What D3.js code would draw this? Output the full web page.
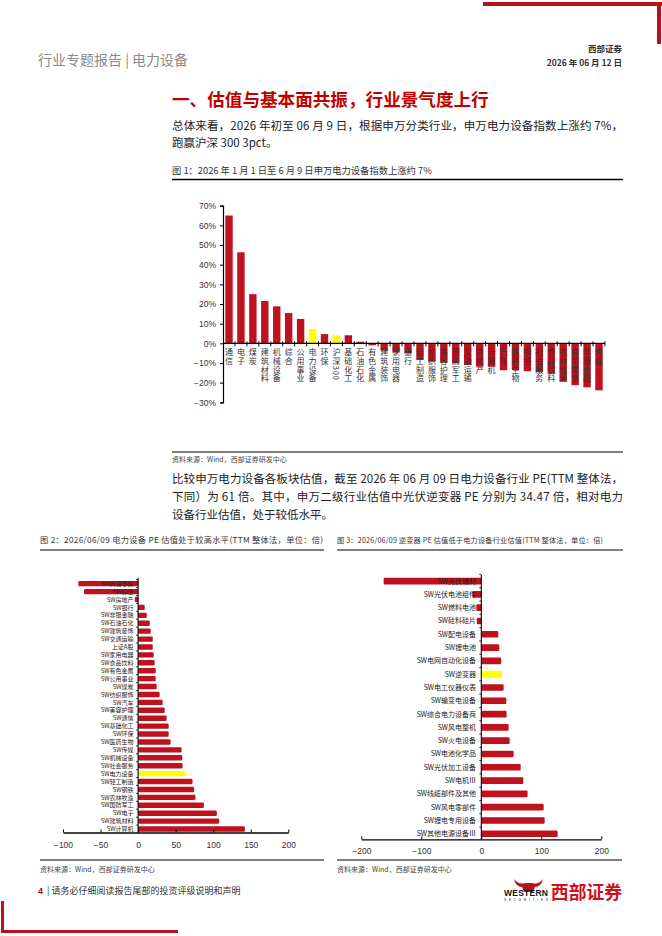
<!DOCTYPE html>
<html>
<head>
<meta charset="utf-8">
<script src="https://cdn.jsdelivr.net/npm/d3@7"></script>
<style>
body { margin: 0; background: #fff; }
svg { display: block; }
text { font-family: "Noto Sans CJK SC", "Liberation Sans", sans-serif; }
.num { font-family: "Liberation Sans", Arial, sans-serif; }
</style>
</head>
<body>
<svg width="662" height="936"></svg>
<script>
// 图1: 申万一级行业年初至今涨跌幅
var industries = ["通信","电子","煤炭","建筑材料","机械设备","综合","公用事业","电力设备","环保","沪深300","基础化工","石油石化","有色金属","建筑装饰","家用电器","银行","轻工制造","纺织服饰","美容护理","国防军工","交通运输","房地产","计算机","汽车","医药生物","钢铁","社会服务","食品饮料","农林牧渔","商贸零售","非银金融","传媒"];
var industryChange = [0.65,0.463,0.25,0.215,0.188,0.154,0.124,0.073,0.047,0.041,0.041,0.008,-0.01,-0.037,-0.047,-0.051,-0.085,-0.093,-0.098,-0.102,-0.11,-0.119,-0.119,-0.137,-0.136,-0.142,-0.146,-0.155,-0.195,-0.213,-0.224,-0.239];
var pctTicks = [-0.3,-0.2,-0.1,0,0.1,0.2,0.3,0.4,0.5,0.6,0.7];
var highlight1 = ["电力设备","沪深300"];

// 图2: 申万一级行业 PE(TTM)
var peNames = ["SW商贸零售","SW综合","SW房地产","SW银行","SW非银金融","SW石油石化","SW建筑装饰","SW交通运输","上证A股","SW家用电器","SW食品饮料","SW有色金属","SW公用事业","SW煤炭","SW纺织服饰","SW汽车","SW美容护理","SW通信","SW基础化工","SW环保","SW医药生物","SW传媒","SW机械设备","SW社会服务","SW电力设备","SW轻工制造","SW钢铁","SW农林牧渔","SW国防军工","SW电子","SW建筑材料","SW计算机"];
var peValues = [-79.6,-72,-4.4,8.8,11.5,15.5,16.8,19.5,19.5,20.8,22,23.4,23.4,24.8,28.7,32.7,35.4,38,40.7,40.7,43.3,57.9,58.8,59.2,63,72.4,74.7,76.4,87.6,104.9,108,142.2];
var peTicks = [-100,-50,0,50,100,150,200];
var highlight2 = ["SW电力设备"];

// 图3: 电力设备三级行业 PE(TTM)
var subNames = ["SW光伏辅材","SW光伏电池组件","SW燃料电池","SW硅料硅片","SW配电设备","SW锂电池","SW电网自动化设备","SW逆变器","SW电工仪器仪表","SW输变电设备","SW综合电力设备商","SW风电整机","SW火电设备","SW电池化学品","SW光伏加工设备","SW电机Ⅲ","SW线缆部件及其他","SW风电零部件","SW锂电专用设备","SW其他电源设备Ⅲ"];
var subValues = [-162.8,-15,-8.3,-7.5,28.3,30,33.3,34.47,37.2,41.7,42.2,45.6,47.2,53.9,65.6,70,77.2,103.9,105.6,127.2];
var subTicks = [-200,-100,0,100,200];
var highlight3 = ["SW逆变器"];

var RED = "#C0121E", YELLOW = "#FFFF00", BRAND = "#B8101C";
var svg = d3.select("svg");

function addText(x, y, s, size, opts) {
    opts = opts || {};
    var t = svg.append("text")
        .attr("x", x).attr("y", y)
        .attr("font-size", size)
        .attr("fill", opts.fill || "#222")
        .attr("font-weight", opts.weight || "normal")
        .attr("text-anchor", opts.anchor || "start")
        .text(s);
    if (opts.len) t.attr("textLength", opts.len).attr("lengthAdjust", "spacing");
    return t;
}
function hline(x1, x2, y, w, c) {
    svg.append("line").attr("x1", x1).attr("x2", x2).attr("y1", y).attr("y2", y)
        .attr("stroke", c || "#000").attr("stroke-width", w || 1);
}

// page frame
svg.append("rect").attr("x", 483).attr("y", 2).attr("width", 179).attr("height", 4).attr("fill", BRAND);
svg.append("rect").attr("x", 657).attr("y", 2).attr("width", 4).attr("height", 42).attr("fill", BRAND);
svg.append("rect").attr("x", 1).attr("y", 901).attr("width", 3).attr("height", 32).attr("fill", BRAND);
svg.append("rect").attr("x", 1).attr("y", 930).attr("width", 177).attr("height", 3).attr("fill", BRAND);

addText(38, 65, "行业专题报告 | 电力设备", 14, {fill: "#8a8a8a"});
addText(622, 52, "西部证券", 8.5, {anchor: "end", weight: "bold", fill: "#333"});
addText(622, 66, "2026 年 06 月 12 日", 8.5, {anchor: "end", weight: "bold", fill: "#333"});

addText(172, 106, "一、估值与基本面共振，行业景气度上行", 17.6, {fill: "#C00000", weight: "bold"});
addText(172, 130, "总体来看，2026 年初至 06 月 9 日，根据申万分类行业，申万电力设备指数上涨约 7%，", 11.5, {len: 451});
addText(172, 147, "跑赢沪深 300 3pct。", 11.5);

addText(172, 174, "图 1：2026 年 1 月 1 日至 6 月 9 日申万电力设备指数上涨约 7%", 9.3, {fill: "#333"});
hline(172, 623, 179.5, 1.3);

// ---- chart 1 ----
var x1 = d3.scalePoint().domain(industries).range([229, 599]);
var y1 = d3.scaleLinear().domain([-0.3, 0.7]).range([402.3, 205.7]);
var bw1 = 7.4;

var yAxis1 = svg.append("g")
    .attr("transform", "translate(223,0)")
    .call(d3.axisLeft(y1).tickValues(pctTicks).tickFormat(d3.format(".0%")).tickSize(3).tickPadding(4));
yAxis1.select(".domain").attr("stroke-width", 1.2);
yAxis1.selectAll("text").attr("class", "num").attr("font-size", 8.5).attr("fill", "#333");

var data1 = industries.map(function(d, i){ return {name: d, v: industryChange[i]}; });
svg.append("g").selectAll("rect")
    .data(data1)
    .enter()
    .append("rect")
    .attr("x", function(d){ return x1(d.name) - bw1 / 2; })
    .attr("y", function(d){ return y1(Math.max(0, d.v)); })
    .attr("width", bw1)
    .attr("height", function(d){ return Math.abs(y1(d.v) - y1(0)); })
    .attr("fill", function(d){ return highlight1.indexOf(d.name) >= 0 ? YELLOW : RED; });

hline(223, 605, y1(0), 1.2);
svg.append("g").selectAll("line")
    .data(industries)
    .enter()
    .append("line")
    .attr("x1", function(d){ return x1(d) + x1.step() / 2; })
    .attr("x2", function(d){ return x1(d) + x1.step() / 2; })
    .attr("y1", y1(0) - 2)
    .attr("y2", y1(0) + 3)
    .attr("stroke", "#000").attr("stroke-width", 1);

// vertical category labels sit on top of the bars
svg.append("g").selectAll("text")
    .data(industries)
    .enter()
    .append("text")
    .attr("x", function(d){ return x1(d); })
    .attr("y", y1(0) + 5)
    .style("writing-mode", "vertical-rl")
    .attr("font-size", 8)
    .attr("letter-spacing", 0.6)
    .attr("fill", "#333")
    .text(function(d){ return d; });

hline(172, 623, 452, 1.2);
addText(172, 462, "资料来源：Wind，西部证券研发中心", 7, {fill: "#444"});

addText(172, 483, "比较申万电力设备各板块估值，截至 2026 年 06 月 09 日电力设备行业 PE(TTM 整体法，", 11.5, {len: 451});
addText(172, 501, "下同）为 61 倍。其中，申万二级行业估值中光伏逆变器 PE 分别为 34.47 倍，相对电力", 11.5, {len: 451});
addText(172, 519, "设备行业估值，处于较低水平。", 11.5);

addText(40, 543, "图 2：2026/06/09 电力设备 PE 估值处于较高水平(TTM 整体法，单位：倍)", 8.2, {fill: "#333", len: 283});
addText(337, 543, "图 3：2026/06/09 逆变器 PE 估值低于电力设备行业估值(TTM 整体法，单位：倍)", 7.2, {fill: "#333", len: 266});
hline(40, 324, 550, 1.2);
hline(337, 623, 550, 1.2);

// horizontal bar chart helper for figures 2 and 3
function barChart(names, values, hi, xs, ys, ticks, axisY, axisTop, labelX, labelSize) {
    var data = names.map(function(d, i){ return {name: d, v: values[i]}; });
    svg.append("g").selectAll("rect")
        .data(data)
        .enter()
        .append("rect")
        .attr("x", function(d){ return xs(Math.min(0, d.v)); })
        .attr("y", function(d){ return ys(d.name); })
        .attr("width", function(d){ return Math.abs(xs(d.v) - xs(0)); })
        .attr("height", ys.bandwidth())
        .attr("rx", 1.2)
        .attr("fill", function(d){ return hi.indexOf(d.name) >= 0 ? YELLOW : RED; });

    var ax = svg.append("g")
        .attr("transform", "translate(0," + axisY + ")")
        .call(d3.axisTop(xs).tickValues(ticks).tickSize(3).tickSizeOuter(0).tickFormat(d3.format("d")));
    ax.select(".domain").attr("stroke-width", 1.3);
    ax.selectAll("text").attr("class", "num").attr("font-size", 8.5).attr("fill", "#333")
        .attr("y", 15);

    svg.append("line").attr("x1", xs(0)).attr("x2", xs(0))
        .attr("y1", axisTop).attr("y2", axisY)
        .attr("stroke", "#000").attr("stroke-width", 1.1);
    svg.append("g").selectAll("line")
        .data(names)
        .enter()
        .append("line")
        .attr("x1", xs(0) - 2).attr("x2", xs(0))
        .attr("y1", function(d){ return ys(d) - ys.step() * ys.paddingInner() / 2; })
        .attr("y2", function(d){ return ys(d) - ys.step() * ys.paddingInner() / 2; })
        .attr("stroke", "#000").attr("stroke-width", 0.8);

    svg.append("g").selectAll("text")
        .data(names)
        .enter()
        .append("text")
        .attr("x", labelX)
        .attr("y", function(d){ return ys(d) + ys.bandwidth() / 2; })
        .attr("dy", "0.36em")
        .attr("text-anchor", "end")
        .attr("font-size", labelSize)
        .attr("fill", "#222")
        .text(function(d){ return d; });
}

var x2 = d3.scaleLinear().domain([-100, 200]).range([63, 288.3]);
var y2 = d3.scaleBand().domain(peNames).range([579.7, 833]).paddingInner(0.32).paddingOuter(0.16);
barChart(peNames, peValues, highlight2, x2, y2, peTicks, 832.5, 578, 133.5, 6);

var x3 = d3.scaleLinear().domain([-200, 200]).range([361.3, 601.3]);
var y3 = d3.scaleBand().domain(subNames).range([574.4, 840.4]).paddingInner(0.5).paddingOuter(0.25);
barChart(subNames, subValues, highlight3, x3, y3, subTicks, 839.3, 575, 476, 7);

hline(40, 324, 860, 1.2);
hline(337, 622, 860, 1.2);
addText(40, 872, "资料来源：Wind，西部证券研发中心", 7, {fill: "#444"});
addText(337, 872, "资料来源：Wind，西部证券研发中心", 7, {fill: "#444"});

// footer
addText(38, 894, "4", 9, {fill: "#C00000", weight: "bold"}).attr("class", "num");
addText(47, 894, "| 请务必仔细阅读报告尾部的投资评级说明和声明", 9, {fill: "#333"});

// logo
svg.append("path")
    .attr("d", "M514,879 Q519,885 525,883 L532,883 Q538,885 543,879 Q541,887 535,887 L533,892 L524,892 L522,887 Q516,887 514,879Z")
    .attr("fill", BRAND);
addText(504, 896, "WESTERN", 8.5, {fill: "#111", weight: "bold", len: 44}).attr("class", "num");
addText(504, 901, "SECURITIES", 3, {fill: "#111", len: 44}).attr("class", "num");
addText(622, 899, "西部证券", 17.8, {anchor: "end", fill: "#D01020", weight: "bold"});
</script>
</body>
</html>
